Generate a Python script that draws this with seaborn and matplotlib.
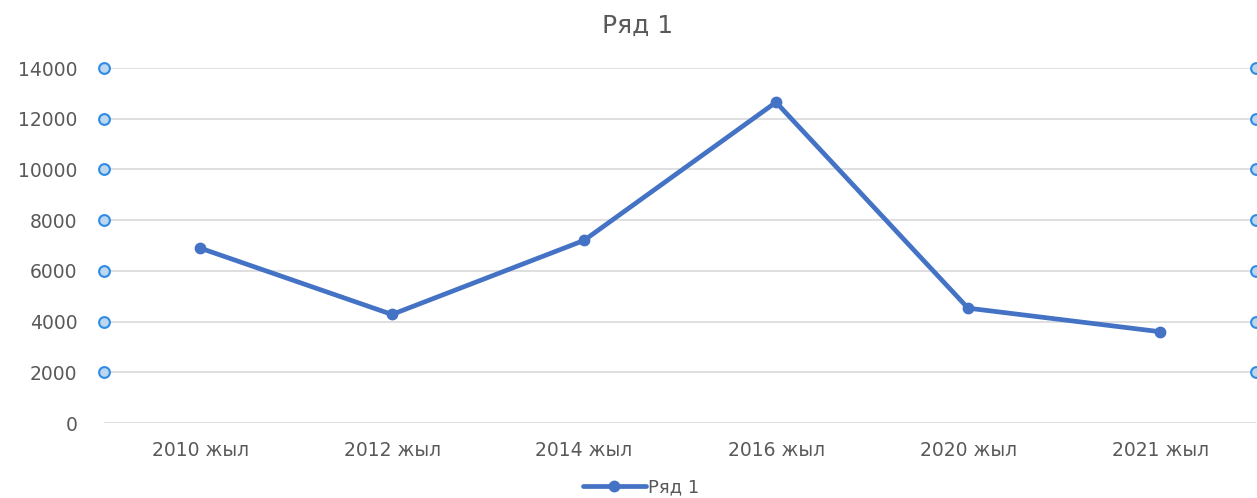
import matplotlib
matplotlib.use("Agg")
import matplotlib.pyplot as plt
import matplotlib.transforms as mtransforms
import pandas as pd
import seaborn as sns

# данные
years = ['2010 жыл', '2012 жыл', '2014 жыл', '2016 жыл', '2020 жыл', '2021 жыл']
values = [6900, 4280, 7200, 12650, 4530, 3600]
series_name = 'Ряд 1'
y_ticks = [0, 2000, 4000, 6000, 8000, 10000, 12000, 14000]

sns.set_theme(style="white")
plt.rcParams['font.family'] = ['DejaVu Sans']

df = pd.DataFrame({'year': years, 'value': values})

fig = plt.figure(figsize=(12.57, 4.98), dpi=100)
ax = fig.add_axes([104 / 1257, 75 / 498, 1152 / 1257, 355 / 498])

line_color = '#4472C4'
sns.lineplot(data=df, x='year', y='value', ax=ax, sort=False, color=line_color,
             linewidth=3.4, marker='o', markersize=8.5, markeredgewidth=0,
             label=series_name)

ax.set_xlim(-0.5, len(years) - 0.5)
ax.set_ylim(0, 14000)
ax.set_yticks(y_ticks)
ax.set_yticklabels([str(t) for t in y_ticks])
ax.yaxis.grid(True, color='#D9D9D9', linewidth=1.2)
ax.set_axisbelow(True)
for s in ax.spines.values():
    s.set_visible(False)
ax.set_xlabel('')
ax.set_ylabel('')
ax.tick_params(axis='x', length=0, pad=13, labelsize=13.5, labelcolor='#595959')
ax.tick_params(axis='y', length=0, pad=19, labelsize=13.5, labelcolor='#595959')

# маркеры выделения на линиях сетки
trans = mtransforms.blended_transform_factory(ax.transAxes, ax.transData)
handle_y = [t for t in y_ticks if t > 0]
for xa in (0, 1):
    ax.scatter([xa] * len(handle_y), handle_y, transform=trans, s=60,
               facecolor='#BDD7EE', edgecolor='#2E8BE6', linewidth=1.5,
               zorder=5, clip_on=False)

fig.text(0.507, 0.948, series_name, ha='center', va='center', fontsize=18, color='#595959')

ax.legend(loc='upper center', bbox_to_anchor=(0.466, -0.12), frameon=False,
          fontsize=13, labelcolor='#595959', handlelength=3.5, handletextpad=0.1,
          borderpad=0.2)

fig.savefig('out.png', dpi=100)
